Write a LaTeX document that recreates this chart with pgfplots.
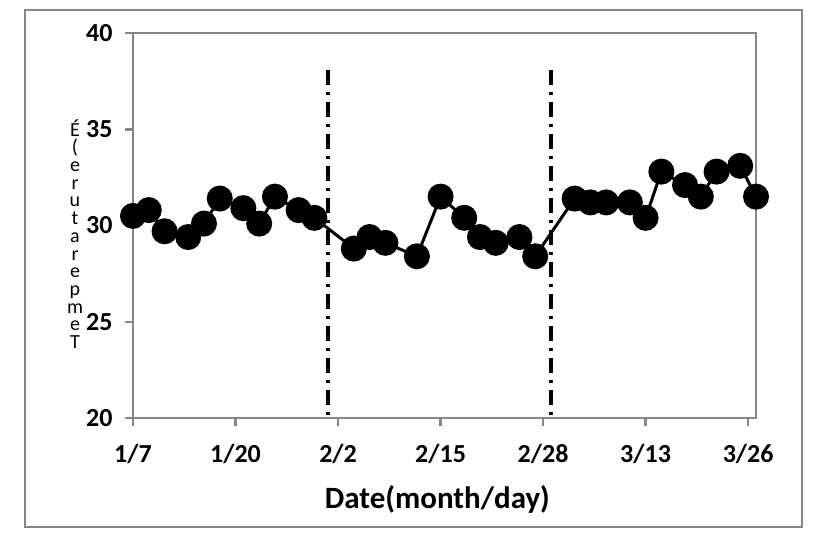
\documentclass[border=0pt]{standalone}
\usepackage{pgfplots}
\pgfplotsset{compat=1.18}
\usepackage{fontspec}
\setmainfont{Carlito}

\definecolor{axgray}{RGB}{134,134,134}

\begin{document}
\begin{tikzpicture}[x=1pt,y=1pt]
\path (0,0) rectangle (830,542);
\draw[axgray, line width=2pt] (25,15) rectangle (802,532);

\begin{axis}[
  at={(133pt,124pt)}, anchor=south west,
  scale only axis,
  width=623pt, height=385pt,
  xmin=0, xmax=79,
  ymin=20, ymax=40,
  xtick={0,13,26,39,52,65,78},
  xticklabels={1/7,1/20,2/2,2/15,2/28,3/13,3/26},
  ytick={20,25,30,35,40},
  xtick pos=left, ytick pos=left,
  tick align=outside,
  major tick length=8pt,
  tick style={axgray, line width=2.5pt},
  axis line style={axgray, line width=2.5pt},
  /pgf/number format/assume math mode=true,
  ticklabel style={font=\fontsize{26}{26}\selectfont\bfseries},
  yticklabel style={xshift=-9pt},
  xticklabel style={yshift=-15pt},
  xlabel={Date(month/day)},
  xlabel style={font=\fontsize{31}{31}\selectfont\bfseries,
    at={(axis description cs:0.4885,0)}, anchor=north, yshift=-64pt},
  clip=false,
]
  % separators between the three periods
  \addplot[black, line width=3.5pt, dash pattern=on 15pt off 7pt on 3pt off 7pt]
    coordinates {(24.7,38.1) (24.7,20)};
  \addplot[black, line width=3.5pt, dash pattern=on 15pt off 7pt on 3pt off 7pt]
    coordinates {(53,38.1) (53,20)};

  \addplot[black, line width=3pt, mark=*, mark size=11.5pt,
    mark options={fill=black, draw=black, solid}]
  coordinates {
    (0,30.5) (2,30.8) (4,29.7) (7,29.4) (9,30.1) (11,31.4)
    (14,30.9) (16,30.1) (18,31.5) (21,30.8) (23,30.4)
    (28,28.8) (30,29.4) (32,29.1) (36,28.4) (39,31.5)
    (42,30.4) (44,29.4) (46,29.1) (49,29.4) (51,28.4)
    (56,31.4) (58,31.2) (60,31.2) (63,31.2) (65,30.4)
    (67,32.8) (70,32.1) (72,31.5) (74,32.8) (77,33.1) (79,31.5)
  };
\end{axis}

% garbled stacked axis title, as in the source image
\node[font=\fontsize{20}{17.7}\selectfont, align=center, inner sep=0pt]
  at (75,308) {É\\(\\e\\r\\u\\t\\a\\r\\e\\p\\m\\e\\T};
\end{tikzpicture}
\end{document}
